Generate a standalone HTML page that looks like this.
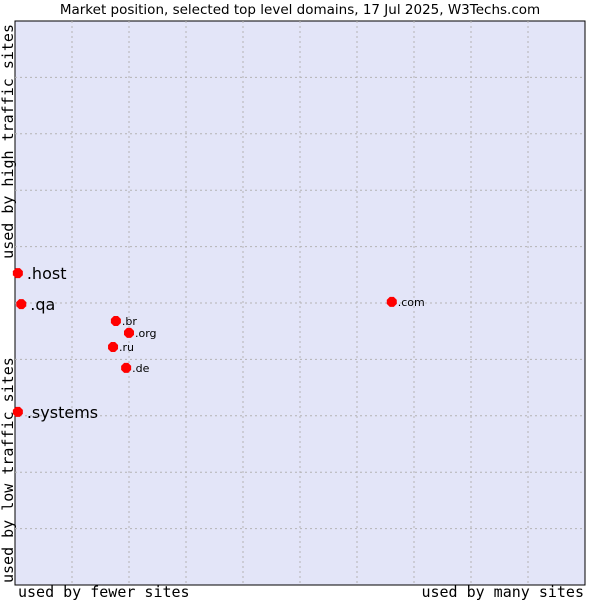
<!DOCTYPE html>
<html><head><meta charset="utf-8"><style>body{margin:0;background:#fff}svg{display:block}</style></head>
<body>
<svg id="chart" width="600" height="600" xmlns="http://www.w3.org/2000/svg">
<text x="300" y="14" text-anchor="middle" font-family="DejaVu Sans, sans-serif" font-size="13.5" fill="#000">Market position, selected top level domains, 17 Jul 2025, W3Techs.com</text>
<rect x="15" y="21" width="570" height="564" fill="#e3e5f8" stroke="#000"/>
<g id="grid"></g>
<g id="pts"></g>
<text x="18" y="597" font-family="DejaVu Sans Mono, monospace" font-size="15">used by fewer sites</text>
<text x="584" y="597" text-anchor="end" font-family="DejaVu Sans Mono, monospace" font-size="15">used by many sites</text>
<text transform="translate(13,583) rotate(-90)" font-family="DejaVu Sans Mono, monospace" font-size="15">used by low traffic sites</text>
<text transform="translate(13,24) rotate(-90)" text-anchor="end" font-family="DejaVu Sans Mono, monospace" font-size="15">used by high traffic sites</text>
</svg>
<script>
const domains=[".host",".qa",".systems",".br",".org",".ru",".de",".com"];
const usageX=[0.5,1.1,0.5,17.7,20.0,17.2,19.5,66.1];
const trafficY=[55.3,49.8,30.7,46.8,44.7,42.2,38.5,50.2];
const isLarge=[true,true,true,false,false,false,false,false];
const NS="http://www.w3.org/2000/svg";
const L=15,T=21,W=570,H=564;
const sx=v=>L+v/100*W, sy=v=>T+H-v/100*H;
const grid=document.getElementById('grid');
for(let i=1;i<10;i++){
 const v=document.createElementNS(NS,'line');
 v.setAttribute('x1',sx(i*10));v.setAttribute('x2',sx(i*10));v.setAttribute('y1',T);v.setAttribute('y2',T+H);
 v.setAttribute('stroke','#b4b4b4');v.setAttribute('stroke-dasharray','2,3');
 
 
 grid.appendChild(v);
 const h=document.createElementNS(NS,'line');
 h.setAttribute('y1',sy(i*10));h.setAttribute('y2',sy(i*10));h.setAttribute('x1',L);h.setAttribute('x2',L+W);
 h.setAttribute('stroke','#b4b4b4');h.setAttribute('stroke-dasharray','2,3');
 
 
 grid.appendChild(h);
}
const pts=document.getElementById('pts');
domains.forEach((d,i)=>{
 const x=sx(usageX[i]),y=sy(trafficY[i]);
 const p=document.createElementNS(NS,'polygon');
 p.setAttribute('points',`${x-2},${y-5} ${x+2},${y-5} ${x+5},${y-2} ${x+5},${y+2} ${x+2},${y+5} ${x-2},${y+5} ${x-5},${y+2} ${x-5},${y-2}`);
 p.setAttribute('fill','#ff0000');
 
 
 pts.appendChild(p);
 const t=document.createElementNS(NS,'text');
 t.setAttribute('x',x+(isLarge[i]?9:6));t.setAttribute('y',y+(isLarge[i]?6:4));
 t.setAttribute('font-family','DejaVu Sans, sans-serif');
 t.setAttribute('font-size',isLarge[i]?16:11);
 t.textContent=d;
 
 
 pts.appendChild(t);
});
</script>
</body></html>
